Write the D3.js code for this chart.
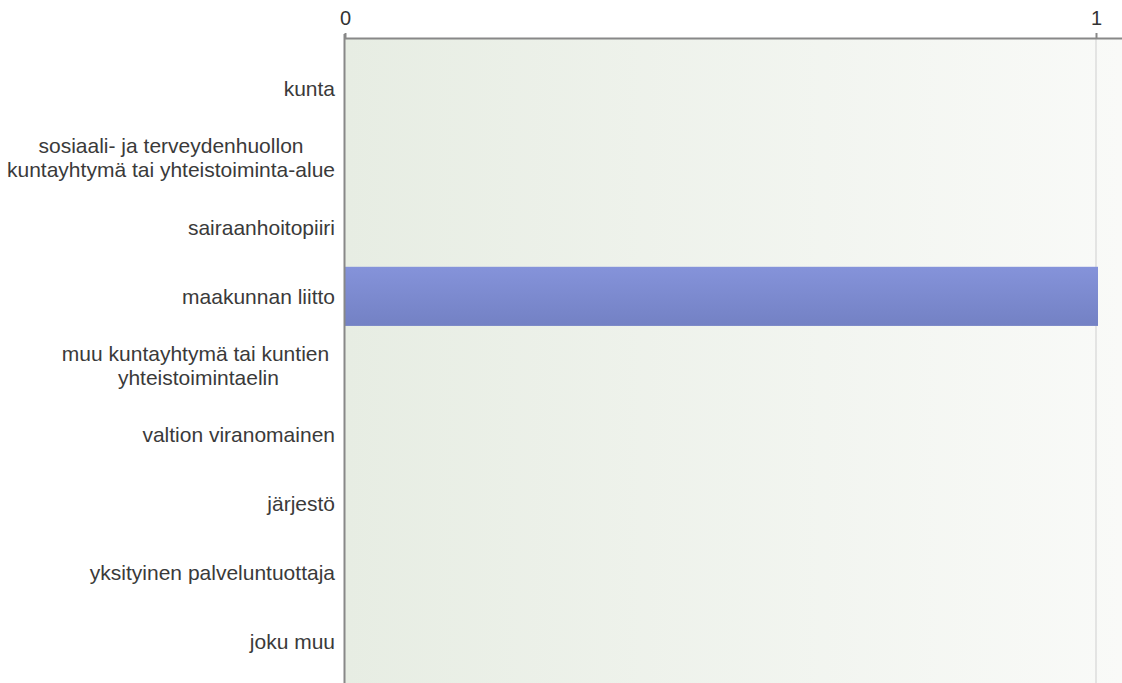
<!DOCTYPE html>
<html><head><meta charset="utf-8">
<script src="https://cdn.jsdelivr.net/npm/d3@7"></script>
<style>
html,body{margin:0;padding:0;background:#fff;}
svg{display:block;font-family:"Liberation Sans",Arial,sans-serif;}
</style></head>
<body>
<svg id="chart" width="1122" height="683"></svg>
<script>
const categories = [
  "kunta",
  "sosiaali- ja terveydenhuollon\nkuntayhtymä tai yhteistoiminta-alue",
  "sairaanhoitopiiri",
  "maakunnan liitto",
  "muu kuntayhtymä tai kuntien \nyhteistoimintaelin",
  "valtion viranomainen",
  "järjestö",
  "yksityinen palveluntuottaja",
  "joku muu"
];
const values = [0, 0, 0, 1, 0, 0, 0, 0, 0];
const tickValues = [0, 1];
const tickLabels = ["0", "1"];

(function () {
const mLeft = 345, mTop = 38, mRight = 1122, mBottom = 683;
const svg = d3.select("#chart");

const x = d3.scaleLinear().domain([0, 1]).range([mLeft, 1096]);
const y = d3.scaleBand().domain(categories).range([54.5, 676.5]).paddingInner(0.145).paddingOuter(0.07);

const defs = svg.append("defs");
const bg = defs.append("linearGradient").attr("id", "bg").attr("x1", 0).attr("x2", 1).attr("y1", 0).attr("y2", 0);
bg.append("stop").attr("offset", 0).attr("stop-color", "#e7ede3");
bg.append("stop").attr("offset", 1).attr("stop-color", "#f9faf8");
const bar = defs.append("linearGradient").attr("id", "bar").attr("x1", 0).attr("x2", 0).attr("y1", 0).attr("y2", 1);
bar.append("stop").attr("offset", 0).attr("stop-color", "#8593da");
bar.append("stop").attr("offset", 1).attr("stop-color", "#7381c4");

svg.append("rect").attr("x", mLeft).attr("y", mTop).attr("width", mRight - mLeft).attr("height", mBottom - mTop).attr("fill", "url(#bg)");

// gridlines
svg.append("g").selectAll("line").data(tickValues.filter(d => d > 0)).join("line")
  .attr("x1", d => x(d)).attr("x2", d => x(d)).attr("y1", mTop).attr("y2", mBottom)
  .attr("stroke", "#dcdcdc").attr("stroke-width", 1.5);

// bars
svg.append("g").selectAll("rect").data(categories.map((c, i) => ({c, v: values[i]})).filter(d => d.v > 0)).join("rect")
  .attr("x", x(0)).attr("y", d => y(d.c))
  .attr("width", d => x(d.v) - x(0) + 2).attr("height", y.bandwidth())
  .attr("fill", "url(#bar)");

// top axis
const ax = d3.axisTop(x).tickValues(tickValues).tickFormat((d, i) => tickLabels[i]).tickSize(5).tickSizeOuter(0);
const axg = svg.append("g").attr("transform", `translate(0,${mTop})`).call(ax);
axg.select(".domain").attr("stroke", "#888").attr("stroke-width", 2).attr("d", `M${mLeft},0.5H${mRight}`);
axg.selectAll(".tick line").attr("stroke", "#888").attr("stroke-width", 2);
axg.selectAll(".tick text").attr("font-size", 20).attr("fill", "#333").attr("font-family", "Liberation Sans, Arial, sans-serif").attr("dy", "-0.25em");

// left axis line
svg.append("line").attr("x1", mLeft - 0.5).attr("x2", mLeft - 0.5).attr("y1", mTop - 4).attr("y2", mBottom)
  .attr("stroke", "#888").attr("stroke-width", 2);

// category labels
const labelRight = 335;
const lg = svg.append("g").attr("font-size", 21).attr("fill", "#3a3a3a");
categories.forEach(c => {
  const lines = c.split("\n");
  const cy = y(c) + y.bandwidth() / 2;
  const lh = 24;
  const t = lg.append("text").style("white-space", "pre");
  const spans = lines.map((ln, i) => t.append("tspan").text(ln).attr("x", 0)
    .attr("y", cy + (i - (lines.length - 1) / 2) * lh).attr("dy", "0.35em"));
  const widths = spans.map(s => s.node().getComputedTextLength());
  const maxW = d3.max(widths);
  if (lines.length === 1) {
    t.attr("text-anchor", "end");
    spans.forEach(s => s.attr("x", labelRight));
  } else {
    t.attr("text-anchor", "middle");
    spans.forEach(s => s.attr("x", labelRight - maxW / 2));
  }
});
})();
</script>
</body></html>
